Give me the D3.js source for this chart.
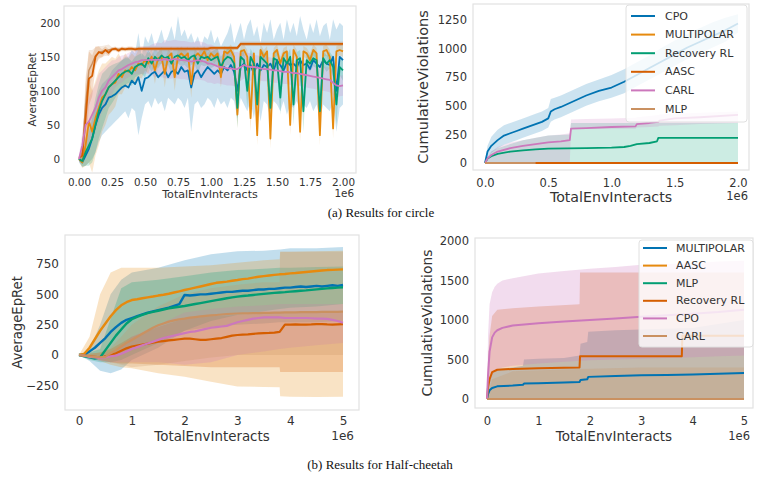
<!DOCTYPE html>
<html><head><meta charset="utf-8">
<script src="https://cdn.jsdelivr.net/npm/d3@7"></script>
<style>body{margin:0;background:#fff} svg{display:block} text{font-family:"DejaVu Sans",sans-serif}</style>
</head><body><svg id="c" width="758" height="477"></svg>
<script>
// ---------- Panel 1: circle, AverageEpRet (x step 0.025, 0..2 x1e6) ----------
const p1_CPO = [0,-5,5,15,30,50,65,75,80,90, 92,95,100,105,108,105,115,110,120,100, 118,120,125,128,120,125,130,120,128,130, 125,135,128,130,105,125,130,120,128,135, 130,125,130,125,135,130,138,128,100,135, 140,130,138,125,140,130,138,135,140,130, 145,138,130,142,138,140,135,145,138,140, 132,145,140,135,145,140,138,150,100,150, 145];
const p1_CPO_hi = [5,10,20,40,60,80,100,110,115,120, 130,135,140,145,150,150,160,155,185,150, 180,170,185,165,175,190,170,180,195,175, 210,180,190,175,185,170,180,165,180,175, 190,170,180,165,175,185,200,170,185,200, 175,195,205,180,195,170,200,185,205,175, 190,200,175,205,185,200,180,210,190,175, 200,185,205,180,195,200,175,205,190,200, 195];
const p1_CPO_lo = [-5,-12,-10,-5,0,10,25,35,40,45, 50,55,60,65,70,60,75,70,35,60, 80,85,75,90,80,85,70,90,85,80, 90,85,75,90,40,80,85,75,80,90, 85,75,90,80,85,75,90,85,60,90, 80,70,85,60,90,55,85,80,60,85, 80,70,85,65,80,75,85,70,80,75, 85,70,80,60,80,75,70,85,40,75, 80];
const p1_MULTI = [0,-5,20,55,40,60,75,90,95,105, 110,112,125,120,130,128,135,130,140,138, 145,140,150,130,148,150,125,150,155,120, 150,155,150,155,110,150,155,150,158,145, 155,150,155,120,158,155,160,150,65,158, 160,150,60,155,35,160,150,158,30,155, 160,140,155,158,50,160,150,40,158,155, 145,160,155,35,158,160,150,45,158,160, 158];
const p1_MULTI_sd = [3,8,30,60,60,55,55,50,45,40, 40,35,30,25,25,20,20,20,20,20, 15,15,10,20,10,10,20,10,10,20, 10,10,10,10,20,10,10,10,8,10, 8,10,8,15,8,8,8,10,20,8, 8,10,20,8,15,8,10,8,15,8, 8,10,8,8,15,8,10,15,8,8, 10,8,8,15,8,8,10,15,8,8, 8];
const p1_RRL = [0,-3,10,20,30,50,70,85,95,105, 110,115,120,125,128,130,125,135,138,140, 135,148,140,150,145,152,148,150,140,150, 152,148,150,145,150,152,140,150,148,150, 145,148,150,135,145,150,148,140,75,150, 145,100,150,140,80,150,145,140,75,148, 145,90,148,140,150,80,145,148,70,145, 140,148,145,70,148,140,145,135,80,135, 130];
const p1_RRL_sd = [3,8,20,30,35,40,40,40,35,30, 28,25,22,20,20,18,18,15,15,15, 15,12,12,12,12,12,12,12,15,12, 12,12,12,12,12,12,15,12,12,12, 12,12,12,15,12,12,12,15,30,12, 12,25,12,12,30,12,12,12,30,12, 12,25,12,12,12,30,12,12,30,12, 12,12,12,30,12,12,12,15,30,12, 15];
const p1_AASC = [2,5,60,118,122,150,157,155,160,156, 161,162,159,162,161,162,162,161,162,162, 162,162,162,162,162,162,162,162,162,162, 162,162,162,162,162,162,162,162,162,162, 163,163,163,163,163,163,163,163,163,169, 169,169,169,169,169,169,169,169,169,169, 169,169,169,169,169,169,169,169,169,169, 169,169,169,169,169,169,169,169,169,169, 169];
const p1_AASC_sd = [2,8,50,40,30,15,8,6,5,5, 3,3,3,3,3,3,3,3,3,3, 3,3,3,3,3,3,3,3,3,3, 3,3,3,3,3,3,3,3,3,3, 3,3,3,3,3,3,3,3,3,3, 3,3,3,3,3,3,3,3,3,3, 3,3,3,3,3,3,3,3,3,3, 3,3,3,3,3,3,3,3,3,3, 3];
const p1_CARL = [0,20,50,55,65,75,90,100,105,115, 120,125,130,132,135,138,140,142,143,145, 145,145,146,145,146,145,147,145,146,147, 146,145,145,144,143,144,145,144,143,140, 140,138,136,135,134,133,133,132,132,135, 138,136,135,135,134,133,132,132,131,130, 130,129,128,128,127,126,126,125,124,123, 122,121,120,119,118,117,116,112,108,107, 108];
const p1_CARL_sd = [5,20,30,35,35,35,35,30,30,25, 25,20,20,20,18,18,18,18,18,20, 20,20,22,25,25,25,28,28,28,28, 28,28,28,28,28,28,28,28,28,28, 28,28,25,25,25,25,25,25,25,20, 20,20,20,18,18,18,18,18,18,18, 18,18,18,18,18,18,18,18,18,18, 18,18,18,18,18,18,18,18,18,15, 15];
const p1_MLP = [0,10,80,130,140,152,156,158,159,160, 161,161,161,161,161,161,161,161,161,161, 161,161,161,161,161,161,161,161,161,161, 161,161,161,161,161,161,161,161,161,161, 163,163,163,163,163,163,163,163,163,169, 169,169,169,169,169,169,169,169,169,169, 169,169,169,169,169,169,169,169,169,169, 169,169,169,169,169,169,169,169,169,169, 169];
const p1_MLP_sd = [2,10,40,30,20,12,10,8,8,8, 3,3,3,3,3,3,3,3,3,3, 3,3,3,3,3,3,3,3,3,3, 3,3,3,3,3,3,3,3,3,3, 3,3,3,3,3,3,3,3,3,3, 3,3,3,3,3,3,3,3,3,3, 3,3,3,3,3,3,3,3,3,3, 3,3,3,3,3,3,3,3,3,3, 3];
const p1_xTicks = [0,0.25,0.5,0.75,1.0,1.25,1.5,1.75,2.0];
const p1_yTicks = [0,50,100,150,200];

// ---------- Panel 2: circle, CumulativeViolations ----------
const p2_CPO_x = [0,0.01,0.02,0.05,0.1,0.15,0.2,0.25,0.3,0.4,0.45,0.5,0.52,0.55,0.6,0.7,0.8,0.9,1.0,1.1,1.2,1.3,1.4,1.5,1.6,1.7,1.8,1.9,2.0];
const p2_CPO = [0,50,100,150,200,240,260,280,300,340,360,390,450,470,490,540,590,630,660,710,770,830,890,950,1010,1060,1110,1160,1220];
const p2_CPO_hi = [0,80,150,230,290,330,350,370,390,430,450,480,560,570,590,640,690,730,770,820,880,940,1010,1070,1130,1180,1230,1270,1300];
const p2_CPO_lo = [0,20,50,90,130,160,180,200,220,260,280,310,360,380,400,450,500,540,570,610,670,730,790,850,910,960,1010,1060,1140];
const p2_CARL_x = [0,0.02,0.05,0.1,0.2,0.3,0.4,0.5,0.6,0.67,0.68,0.8,1.0,1.19,1.2,1.3,1.37,1.38,1.5,1.7,2.0];
const p2_CARL = [0,40,70,100,130,150,165,180,190,200,300,305,315,320,340,350,360,370,390,400,420];
const p2_CARL_hi = [0,60,100,140,180,200,220,240,250,260,380,385,390,395,400,410,420,425,430,440,450];
const p2_CARL_lo = [0,0,0,0,0,0,0,0,0,0,300,300,300,300,310,315,320,325,330,340,350];
const p2_RRL_x = [0,0.02,0.05,0.1,0.2,0.3,0.4,0.5,0.8,1.0,1.1,1.15,1.2,1.3,1.36,1.37,2.0];
const p2_RRL = [0,40,60,80,100,110,120,125,130,135,140,150,165,175,190,220,220];
const p2_RRLband_x = [0,0.05,0.1,0.3,0.5,0.67,0.68,2.0];
const p2_RRL_hi = [0,100,130,200,240,250,350,350];
const p2_RRL_lo = [0,0,0,0,0,0,0,0];
const p2_zero_x = [0,2.0];
const p2_zero = [0,0];
const p2_MLP_x = [0,0.4];
const p2_MLP = [0,0];
const p2_xTicks = [0,0.5,1.0,1.5,2.0];
const p2_yTicks = [0,250,500,750,1000,1250];
const p2_legendNames = ["CPO","MULTIPOLAR","Recovery RL","AASC","CARL","MLP"];

// ---------- Panel 3: Half-cheetah, AverageEpRet (x step 0.1, 0..5 x1e6) ----------
const p3_AASC = [0,10,60,130,200,260,320,370,410,435, 453,460,468,475,482,490,497,505,515,525, 536,545,555,565,575,585,595,600,605,612, 618,625,630,638,645,650,655,660,665,668, 673,676,680,684,688,692,696,700,702,704, 706];
const p3_MULTI = [0,5,30,60,100,140,190,230,265,290, 305,320,335,350,360,370,380,390,405,420, 495,490,495,500,500,505,510,515,520,520, 525,530,530,535,540,540,545,545,550,555, 555,560,565,560,565,570,565,570,575,570, 577];
const p3_MLP = [0,-10,-20,-30,-20,40,100,160,210,260, 295,315,330,345,355,365,375,385,392,398, 404,412,420,428,436,444,452,460,468,475, 481,486,490,495,500,504,508,512,515,518, 522,526,530,533,537,541,545,549,552,555, 558];
const p3_CARL = [0,-5,-10,-15,-20,-15,15,40,70,100, 124,150,175,200,225,245,260,275,285,295, 300,308,313,318,322,326,330,334,338,340, 342,343,344,345,346,347,348,349,350,351, 352,352,353,353,354,354,355,355,356,356, 357];
const p3_CPO = [0,-5,-15,-20,-25,-20,-10,-5,10,30, 50,65,80,95,110,125,140,150,160,170, 180,190,195,205,215,225,230,235,240,255, 270,280,290,300,305,310,310,310,310,305, 305,305,305,305,303,300,300,298,290,280, 266];
const p3_RRL = [0,-5,-10,-15,-20,-10,0,15,35,55, 70,78,86,94,102,110,115,120,125,130, 135,135,130,125,125,130,135,140,150,160, 165,168,170,175,178,180,182,185,190,250, 250,252,250,250,252,255,255,252,250,253, 255];
const p3_band_x = [0,0.2,0.4,0.6,0.8,1,1.5,2,2.5,3,3.5,3.8,3.81,4,4.5,5];
const p3_MULTI_hi = [0,50,250,500,620,680,720,780,830,855,860,870,870,880,880,890];
const p3_MULTI_lo = [0,-50,-130,-150,-120,-40,60,200,230,250,260,270,270,270,270,280];
const p3_AASC_hi = [0,150,500,680,720,720,720,730,740,760,780,790,850,850,855,860];
const p3_AASC_lo = [0,-20,-50,-80,-100,-110,-150,-180,-220,-260,-263,-265,-340,-343,-345,-343];
const p3_MLP_hi = [0,20,50,300,550,600,620,650,680,700,710,720,720,720,725,730];
const p3_MLP_lo = [0,-40,-60,-60,-40,0,100,200,280,330,360,380,380,390,400,420];
const p3_RRL_hi = [0,10,20,50,100,150,230,300,320,330,340,350,350,350,350,350];
const p3_RRL_lo = [0,-20,-40,-60,-70,-70,-80,-90,-100,-100,-100,-100,-140,-140,-140,-140];
const p3_CPO_hi = [0,0,-5,20,60,150,250,350,380,400,410,420,420,420,420,420];
const p3_CPO_lo = [0,-30,-50,-60,-60,-60,-60,-80,-60,0,30,50,50,60,80,100];
const p3_CARL_hi = [0,10,20,60,150,250,400,500,550,580,600,600,850,850,850,850];
const p3_CARL_lo = [0,-20,-40,-60,-80,-100,-80,-50,-20,0,0,0,0,0,0,0];
const p3_xTicks = [0,1,2,3,4,5];
const p3_yTicks = [-250,0,250,500,750];

// ---------- Panel 4: Half-cheetah, CumulativeViolations ----------
const p4_CPO_x = [0,0.02,0.05,0.1,0.15,0.2,0.3,0.5,1,1.5,2,2.5,3,3.5,4,4.5,5];
const p4_CPO = [0,300,600,780,840,870,900,930,960,980,1000,1020,1040,1060,1080,1100,1130];
const p4_CPO_hi = [0,800,1200,1350,1420,1460,1500,1530,1590,1620,1650,1670,1700,1710,1720,1740,1750];
const p4_CPO_lo = [0,100,200,300,350,380,400,420,450,470,490,500,510,520,530,540,550];
const p4_RRL_x = [0,0.02,0.05,0.1,0.2,0.5,1,1.5,1.8,1.81,3,3.79,3.8,5];
const p4_RRL = [0,150,250,340,370,380,390,395,400,540,540,540,800,800];
const p4_RRLband_x = [0,0.02,0.05,0.1,0.2,0.5,1,1.8,1.81,5];
const p4_RRL_hi = [0,500,800,1050,1130,1150,1170,1200,1600,1600];
const p4_RRL_lo = [0,0,0,0,0,0,0,0,0,0];
const p4_MULTI_x = [0,0.02,0.05,0.1,0.2,0.5,0.7,0.72,1,1.5,1.8,1.82,1.95,1.97,2.5,3,3.5,4,4.5,5];
const p4_MULTI = [0,60,110,140,160,170,180,195,200,210,215,240,250,280,290,300,305,310,320,330];
const p4_MULTI_hi = [0,150,250,330,380,400,420,500,510,520,550,700,720,850,870,880,890,900,950,1000];
const p4_MULTI_lo = [0,0,0,0,0,0,0,0,0,0,0,0,0,0,0,0,0,0,0,0];
const p4_CARLband_x = [0,0.1,0.5,1.8,3,5];
const p4_CARL_hi = [0,250,350,380,400,400];
const p4_CARL_lo = [0,0,0,0,0,0];
const p4_zero_x = [0,5];
const p4_zero = [0,0];
const p4_xTicks = [0,1,2,3,4,5];
const p4_yTicks = [0,500,1000,1500,2000];
const p4_legendNames = ["MULTIPOLAR","AASC","MLP","Recovery RL","CPO","CARL"];

// ---------- drawing ----------
const C = {blue:"#0173b2", orange:"#e68a0e", green:"#029e73", red:"#d55e00", pink:"#cc78bc", tan:"#ca9161"};
const svg = d3.select("#c");
const defs = svg.append("defs");
const TXT = "#333";

function panel(o) {
  const x = d3.scaleLinear().domain(o.xdom).range([o.x0, o.x1]);
  const y = d3.scaleLinear().domain(o.ydom).range([o.y1, o.y0]);
  defs.append("clipPath").attr("id", o.id).append("rect")
    .attr("x", o.x0).attr("y", o.y0).attr("width", o.x1 - o.x0).attr("height", o.y1 - o.y0);
  const g = svg.append("g");
  const plot = g.append("g").attr("clip-path", `url(#${o.id})`);
  const bands = plot.append("g"), lines = plot.append("g");
  const ax = g.append("g").attr("transform", `translate(0,${o.y1})`)
    .call(d3.axisBottom(x).tickValues(o.xticks).tickFormat(d3.format(o.xfmt)).tickSize(0).tickPadding(o.xpad));
  const ay = g.append("g").attr("transform", `translate(${o.x0},0)`)
    .call(d3.axisLeft(y).tickValues(o.yticks).tickFormat(d3.format(o.yfmt)).tickSize(0).tickPadding(o.ypad));
  [ax, ay].forEach(a => {
    a.select(".domain").remove();
    a.selectAll("text").attr("fill", TXT).style("font-size", o.tickFont + "px").style("font-family", "DejaVu Sans");
  });
  g.append("rect").attr("x", o.x0).attr("y", o.y0).attr("width", o.x1 - o.x0).attr("height", o.y1 - o.y0)
    .attr("fill", "none").attr("stroke", "#e2e2e2").attr("stroke-width", 1.2);
  g.append("text").attr("x", (o.x0 + o.x1) / 2).attr("y", o.xlabY).attr("text-anchor", "middle")
    .attr("fill", TXT).style("font-size", o.labFont + "px").text("TotalEnvInteracts");
  g.append("text").attr("x", o.e6X).attr("y", o.e6Y).attr("text-anchor", "end")
    .attr("fill", TXT).style("font-size", o.tickFont + "px").text("1e6");
  g.append("text").attr("transform", `translate(${o.ylabX},${(o.y0 + o.y1) / 2}) rotate(-90)`)
    .attr("text-anchor", "middle").attr("dominant-baseline", "central")
    .attr("fill", TXT).style("font-size", o.ylabFont + "px").text(o.ylabel);
  return {plot, bands, lines, x, y, g, alpha: o.alpha};
}

function band(P, xs, lo, hi, color) {
  const d = xs.map((v, i) => [v, lo[i], hi[i]]);
  P.bands.append("path").datum(d)
    .attr("d", d3.area().x(p => P.x(p[0])).y0(p => P.y(p[1])).y1(p => P.y(p[2])))
    .attr("fill", color).attr("fill-opacity", P.alpha).attr("stroke", "none");
}
function bandSd(P, xs, m, sd, color) {
  band(P, xs, m.map((v, i) => v - sd[i]), m.map((v, i) => v + sd[i]), color);
}
function line(P, xs, ys, color, w) {
  const d = xs.map((v, i) => [v, ys[i]]);
  P.lines.append("path").datum(d)
    .attr("d", d3.line().x(p => P.x(p[0])).y(p => P.y(p[1])))
    .attr("fill", "none").attr("stroke", color).attr("stroke-width", w)
    .attr("stroke-linejoin", "round");
}
function legend(P, names, colors, bx, by, bw, bh, lx0, lx1, tx, ey, step, fs) {
  const g = P.g.append("g");
  g.append("rect").attr("x", bx).attr("y", by).attr("width", bw).attr("height", bh).attr("rx", 3)
    .attr("fill", "#fff").attr("fill-opacity", 0.8).attr("stroke", "#e0e0e0").attr("stroke-width", 1);
  names.forEach((n, i) => {
    const yy = ey + i * step;
    g.append("line").attr("x1", lx0).attr("x2", lx1).attr("y1", yy).attr("y2", yy)
      .attr("stroke", colors[i]).attr("stroke-width", 2);
    g.append("text").attr("x", tx).attr("y", yy).attr("dominant-baseline", "central")
      .attr("fill", TXT).style("font-size", fs + "px").text(n);
  });
}

// Panel 1
const P1 = panel({id: "c1", x0: 64, x1: 356, y0: 6, y1: 173, xdom: [-0.1136, 2.0985], ydom: [-20.5, 224.5],
  xticks: p1_xTicks, yticks: p1_yTicks, xfmt: ".2f", yfmt: "d", xpad: 6, ypad: 4, tickFont: 10.4, labFont: 11.1, ylabFont: 10.5,
  xlabY: 198, e6X: 354, e6Y: 197, ylabX: 32, ylabel: "AverageEpRet", alpha: 0.2});
const p1X = d3.range(81).map(i => i * 0.025);
band(P1, p1X, p1_CPO_lo, p1_CPO_hi, C.blue);
bandSd(P1, p1X, p1_MULTI, p1_MULTI_sd, C.orange);
bandSd(P1, p1X, p1_RRL, p1_RRL_sd, C.green);
bandSd(P1, p1X, p1_AASC, p1_AASC_sd, C.red);
bandSd(P1, p1X, p1_CARL, p1_CARL_sd, C.pink);
bandSd(P1, p1X, p1_MLP, p1_MLP_sd, C.tan);
line(P1, p1X, p1_CPO, C.blue, 1.8);
line(P1, p1X, p1_MULTI, C.orange, 1.8);
line(P1, p1X, p1_RRL, C.green, 1.8);
line(P1, p1X, p1_MLP, C.tan, 1.4);
line(P1, p1X, p1_AASC, C.red, 1.8);
line(P1, p1X, p1_CARL, C.pink, 1.8);

// Panel 2
const P2 = panel({id: "c2", x0: 473, x1: 749, y0: 4, y1: 170, xdom: [-0.0949, 2.087], ydom: [-61, 1390],
  xticks: p2_xTicks, yticks: p2_yTicks, xfmt: ".1f", yfmt: "d", xpad: 8.5, ypad: 6, tickFont: 11.5, labFont: 14.2, ylabFont: 14.5,
  xlabY: 202, e6X: 748, e6Y: 200, ylabX: 423, ylabel: "CumulativeViolations", alpha: 0.2});
band(P2, p2_CPO_x, p2_CPO_lo, p2_CPO_hi, C.blue);
band(P2, p2_RRLband_x, p2_RRL_lo, p2_RRL_hi, C.green);
band(P2, p2_CARL_x, p2_CARL_lo, p2_CARL_hi, C.pink);
line(P2, p2_CPO_x, p2_CPO, C.blue, 1.8);
line(P2, p2_zero_x, p2_zero, C.orange, 1.8);
line(P2, p2_RRL_x, p2_RRL, C.green, 1.8);
line(P2, p2_zero_x, p2_zero, C.red, 1.8);
line(P2, p2_CARL_x, p2_CARL, C.pink, 1.8);
line(P2, p2_MLP_x, p2_MLP, C.tan, 1.8);
legend(P2, p2_legendNames, [C.blue, C.orange, C.green, C.red, C.pink, C.tan], 626, 5, 121, 117, 631, 655, 665, 16, 18.6, 11);

// Panel 3
const P3 = panel({id: "c3", x0: 65, x1: 359, y0: 235, y1: 410, xdom: [-0.265, 5.303], ydom: [-453, 989],
  xticks: p3_xTicks, yticks: p3_yTicks, xfmt: "d", yfmt: "d", xpad: 6.5, ypad: 6, tickFont: 12, labFont: 13.4, ylabFont: 13.2,
  xlabY: 441, e6X: 354, e6Y: 440, ylabX: 17, ylabel: "AverageEpRet", alpha: 0.24});
const p3X = d3.range(51).map(i => i * 0.1);
band(P3, p3_band_x, p3_MULTI_lo, p3_MULTI_hi, C.blue);
band(P3, p3_band_x, p3_AASC_lo, p3_AASC_hi, C.orange);
band(P3, p3_band_x, p3_MLP_lo, p3_MLP_hi, C.green);
band(P3, p3_band_x, p3_RRL_lo, p3_RRL_hi, C.red);
band(P3, p3_band_x, p3_CPO_lo, p3_CPO_hi, C.pink);
band(P3, p3_band_x, p3_CARL_lo, p3_CARL_hi, C.tan);
line(P3, p3X, p3_MULTI, C.blue, 2.4);
line(P3, p3X, p3_AASC, C.orange, 2.4);
line(P3, p3X, p3_MLP, C.green, 2.4);
line(P3, p3X, p3_RRL, C.red, 2.2);
line(P3, p3X, p3_CPO, C.pink, 2.2);
line(P3, p3X, p3_CARL, C.tan, 2.2);

// Panel 4
const P4 = panel({id: "c4", x0: 475, x1: 753, y0: 238, y1: 408, xdom: [-0.2335, 5.175], ydom: [-114, 2038],
  xticks: p4_xTicks, yticks: p4_yTicks, xfmt: "d", yfmt: "d", xpad: 8.5, ypad: 6, tickFont: 11.5, labFont: 13.5, ylabFont: 13.9,
  xlabY: 441, e6X: 750, e6Y: 440, ylabX: 427, ylabel: "CumulativeViolations", alpha: 0.26});
band(P4, p4_MULTI_x, p4_MULTI_lo, p4_MULTI_hi, C.blue);
band(P4, p4_RRLband_x, p4_RRL_lo, p4_RRL_hi, C.red);
band(P4, p4_CPO_x, p4_CPO_lo, p4_CPO_hi, C.pink);
band(P4, p4_CARLband_x, p4_CARL_lo, p4_CARL_hi, C.tan);
line(P4, p4_MULTI_x, p4_MULTI, C.blue, 2);
line(P4, p4_zero_x, p4_zero, C.orange, 2);
line(P4, p4_zero_x, p4_zero, C.green, 2);
line(P4, p4_RRL_x, p4_RRL, C.red, 2);
line(P4, p4_CPO_x, p4_CPO, C.pink, 2);
line(P4, p4_zero_x, p4_zero, C.tan, 2);
legend(P4, p4_legendNames, [C.blue, C.orange, C.green, C.red, C.pink, C.tan], 639, 240, 114, 107, 643, 667, 676, 248, 17.6, 11);

// Captions
svg.append("text").attr("x", 381).attr("y", 217).attr("text-anchor", "middle")
  .style("font-family", "'Liberation Serif', serif").style("font-size", "13px").attr("fill", "#111")
  .text("(a) Results for circle");
svg.append("text").attr("x", 380).attr("y", 469).attr("text-anchor", "middle")
  .style("font-family", "'Liberation Serif', serif").style("font-size", "13px").attr("fill", "#111")
  .text("(b) Results for Half-cheetah");
</script></body></html>
